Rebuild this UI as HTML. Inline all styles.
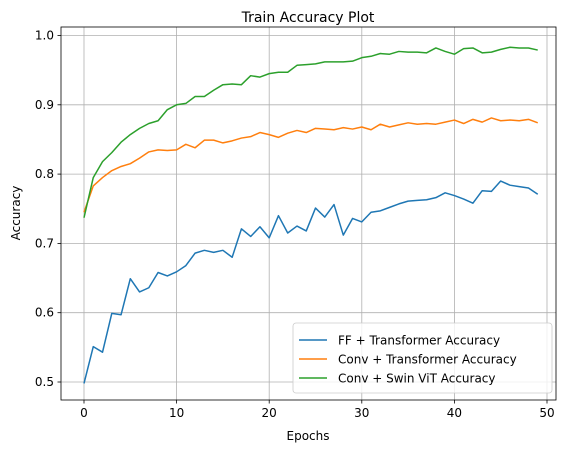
<!DOCTYPE html>
<html><head><meta charset="utf-8"><style>
body{margin:0;background:#fff;}
svg{font-family:"DejaVu Sans","Liberation Sans",sans-serif;}
</style></head><body>
<svg id="chart" width="567" height="453" viewBox="0 0 567 453">
<rect width="567" height="453" fill="#fff"/>
<text x="308" y="22" text-anchor="middle" font-size="14">Train Accuracy Plot</text>
<g id="grid"></g><g id="series"></g><g id="axes"></g>
<text x="308" y="440" text-anchor="middle" font-size="12">Epochs</text>
<text x="20" y="213" text-anchor="middle" font-size="12" transform="rotate(-90 20 213)">Accuracy</text>
<g id="legend"></g>
</svg>
<script>
const xTicks=[0,10,20,30,40,50];
const yTicks=[0.5,0.6,0.7,0.8,0.9,1.0];
const yTickLabels=["0.5","0.6","0.7","0.8","0.9","1.0"];
const seriesNames=["FF + Transformer Accuracy","Conv + Transformer Accuracy","Conv + Swin ViT Accuracy"];
const ffAcc=[0.498,0.551,0.543,0.599,0.597,0.649,0.630,0.636,0.658,0.653,0.659,0.668,0.686,0.690,0.687,0.690,0.680,0.721,0.710,0.724,0.708,0.740,0.715,0.725,0.718,0.751,0.738,0.756,0.712,0.736,0.731,0.745,0.747,0.752,0.757,0.761,0.762,0.763,0.766,0.773,0.769,0.764,0.758,0.776,0.775,0.790,0.784,0.782,0.780,0.771];
const convAcc=[0.745,0.783,0.795,0.805,0.811,0.815,0.823,0.832,0.835,0.834,0.835,0.843,0.838,0.849,0.849,0.845,0.848,0.852,0.854,0.860,0.857,0.853,0.859,0.863,0.860,0.866,0.865,0.864,0.867,0.865,0.868,0.864,0.872,0.868,0.871,0.874,0.872,0.873,0.872,0.875,0.878,0.873,0.879,0.875,0.881,0.877,0.878,0.877,0.879,0.874];
const swinAcc=[0.737,0.795,0.818,0.831,0.846,0.857,0.866,0.873,0.877,0.893,0.900,0.902,0.912,0.912,0.921,0.929,0.930,0.929,0.942,0.940,0.945,0.947,0.947,0.957,0.958,0.959,0.962,0.962,0.962,0.963,0.968,0.970,0.974,0.973,0.977,0.976,0.976,0.975,0.982,0.977,0.973,0.981,0.982,0.975,0.976,0.980,0.983,0.982,0.982,0.979];
const colors=["#1f77b4","#ff7f0e","#2ca02c"];
const L=61,R=556,T=27,B=400;
const xs=v=>84+v*9.26;
const ys=v=>382-(v-0.5)*693;
const NS="http://www.w3.org/2000/svg";
function mk(tag,attrs,parent){const e=document.createElementNS(NS,tag);for(const k in attrs)e.setAttribute(k,attrs[k]);parent.appendChild(e);return e;}
const grid=document.getElementById('grid'),axes=document.getElementById('axes'),ser=document.getElementById('series'),leg=document.getElementById('legend');
xTicks.forEach(t=>{
 const g=mk('line',{x1:xs(t),x2:xs(t),y1:T,y2:B,stroke:'#b0b0b0','stroke-width':0.8},grid);
 
 
 mk('line',{x1:xs(t),x2:xs(t),y1:B,y2:B+3.5,stroke:'#000','stroke-width':0.8},axes);
 const tx=mk('text',{x:xs(t),y:B+17,'text-anchor':'middle','font-size':12},axes);tx.textContent=t;
 
 
});
yTicks.forEach((t,i)=>{
 const g=mk('line',{x1:L,x2:R,y1:ys(t),y2:ys(t),stroke:'#b0b0b0','stroke-width':0.8},grid);
 
 
 mk('line',{x1:L-3.5,x2:L,y1:ys(t),y2:ys(t),stroke:'#000','stroke-width':0.8},axes);
 const tx=mk('text',{x:L-7,y:ys(t)+4,'text-anchor':'end','font-size':12},axes);tx.textContent=yTickLabels[i];
 
 
});
const frame=mk('rect',{x:L,y:T,width:R-L,height:B-T,fill:'none',stroke:'#000','stroke-width':0.8},axes);


[ffAcc,convAcc,swinAcc].forEach((d,i)=>{
 const p=mk('polyline',{points:d.map((v,j)=>xs(j)+','+ys(v)).join(' '),fill:'none',stroke:colors[i],'stroke-width':1.5,'stroke-linejoin':'round'},ser);
 
 
});
const box=mk('rect',{x:293,y:323,width:259,height:70,rx:3,fill:'#fff','fill-opacity':0.8,stroke:'#ccc','stroke-width':0.8},leg);


seriesNames.forEach((n,i)=>{
 const y=340+i*19;
 mk('line',{x1:299,x2:327,y1:y,y2:y,stroke:colors[i],'stroke-width':1.5},leg);
 const t=mk('text',{x:338,y:y+4.5,'font-size':12},leg);t.textContent=n;
 
 
});
</script>
</body></html>
